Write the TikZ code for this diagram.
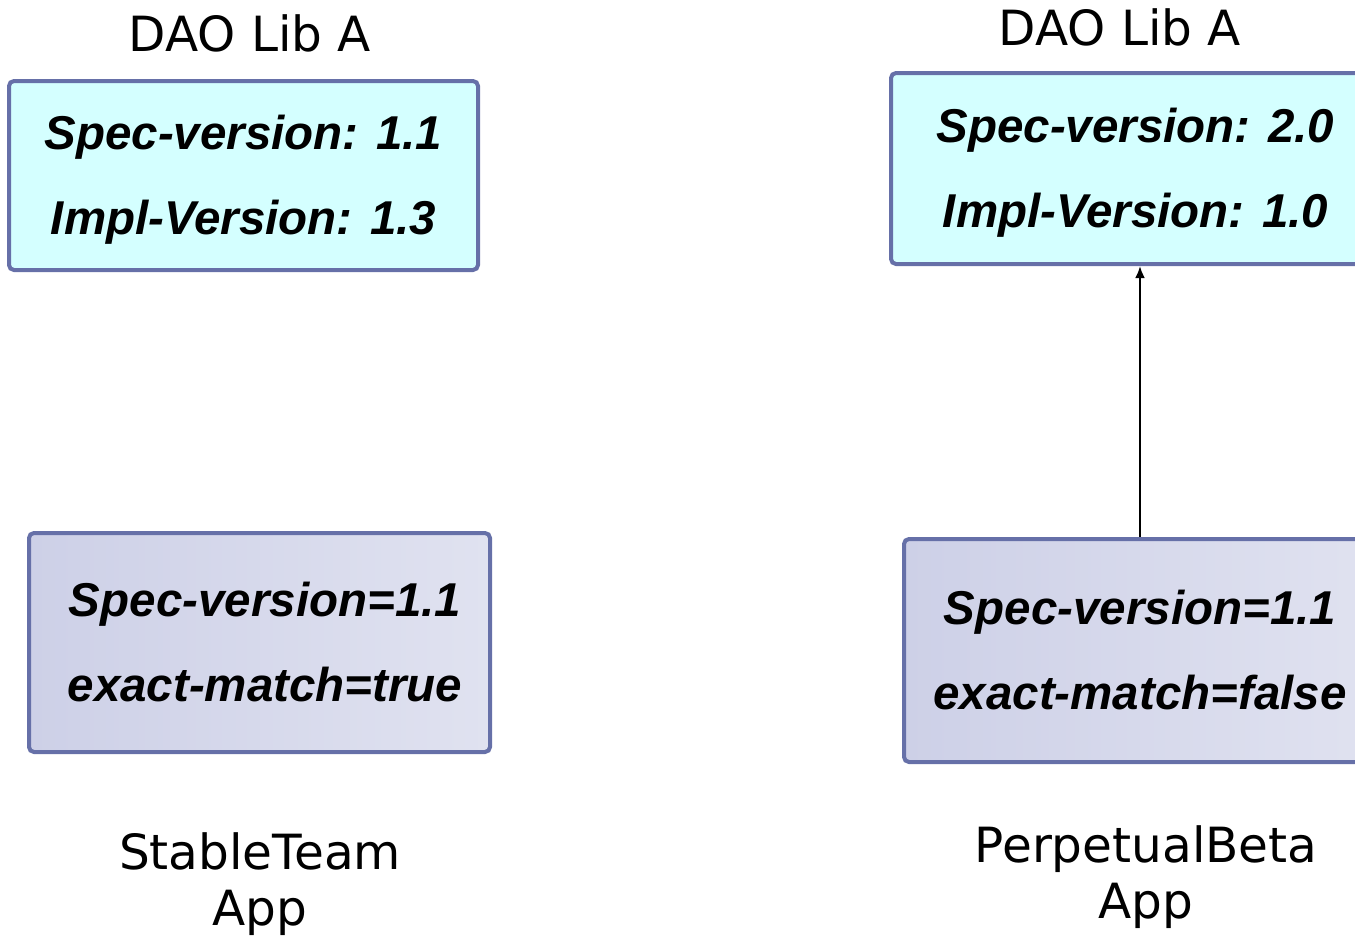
\documentclass[tikz,border=0pt]{standalone}
\usepackage{fontspec}
\setmainfont{DejaVu Sans}
\newfontfamily\boxfont{Liberation Sans}
\usetikzlibrary{arrows.meta}
\definecolor{bordc}{HTML}{6670A8}
\definecolor{cyanfill}{HTML}{D4FFFF}
\definecolor{lavA}{HTML}{CDD0E7}
\definecolor{lavB}{HTML}{E0E2F0}
\newcommand{\lowerline}[1]{\raisebox{-4pt}[\height][\depth]{#1}}
\newcommand{\shiftline}[1]{\makebox[0pt]{\hspace{11pt}#1}}
\tikzset{
  libbox/.style={draw=bordc, line width=4pt, rounded corners=5pt, fill=cyanfill,
    inner sep=0pt, align=center, font=\boxfont\bfseries\itshape\fontsize{47.5}{85}\selectfont},
  appbox/.style={draw=bordc, line width=4pt, rounded corners=5pt,
    shading=axis, shading angle=60, left color=lavA, right color=lavB,
    inner sep=0pt, align=center, font=\boxfont\bfseries\itshape\fontsize{47.5}{85}\selectfont},
  plainlabel/.style={inner sep=0pt, align=center, font=\fontsize{48.5}{56}\selectfont},
}
\begin{document}
\begin{tikzpicture}[x=1pt,y=-1pt]
\useasboundingbox (0,0) rectangle (1355,935);
\clip (0,0) rectangle (1355,935);
\node[libbox, minimum width=469pt, minimum height=189pt] (libL) at (243.5,175.5)
  {\lowerline{Spec-version: 1.1}\\\lowerline{Impl-Version: 1.3}};
\node[libbox, minimum width=489pt, minimum height=191pt] (libR) at (1135.5,168.5)
  {\lowerline{Spec-version: 2.0}\\\lowerline{Impl-Version: 1.0}};
\node[appbox, minimum width=461pt, minimum height=219pt] (appL) at (259.5,642.5)
  {\shiftline{Spec-version=1.1}\\\shiftline{exact-match=true}};
\node[appbox, minimum width=472pt, minimum height=223pt] (appR) at (1140,650.5)
  {Spec-version=1.1\\exact-match=false};
\node[plainlabel] (tL) at (250,33) {DAO Lib A};
\node[plainlabel] (tR) at (1120,27) {DAO Lib A};
\node[plainlabel] (bL) at (260,884) {StableTeam\\App};
\node[plainlabel] (bR) at (1146,877) {PerpetualBeta\\App};
\draw[line width=2.5pt, -{Latex[length=12pt,width=10pt]}] (appR.north -| 1140,0) -- (libR.south -| 1140,0);
\end{tikzpicture}
\end{document}
